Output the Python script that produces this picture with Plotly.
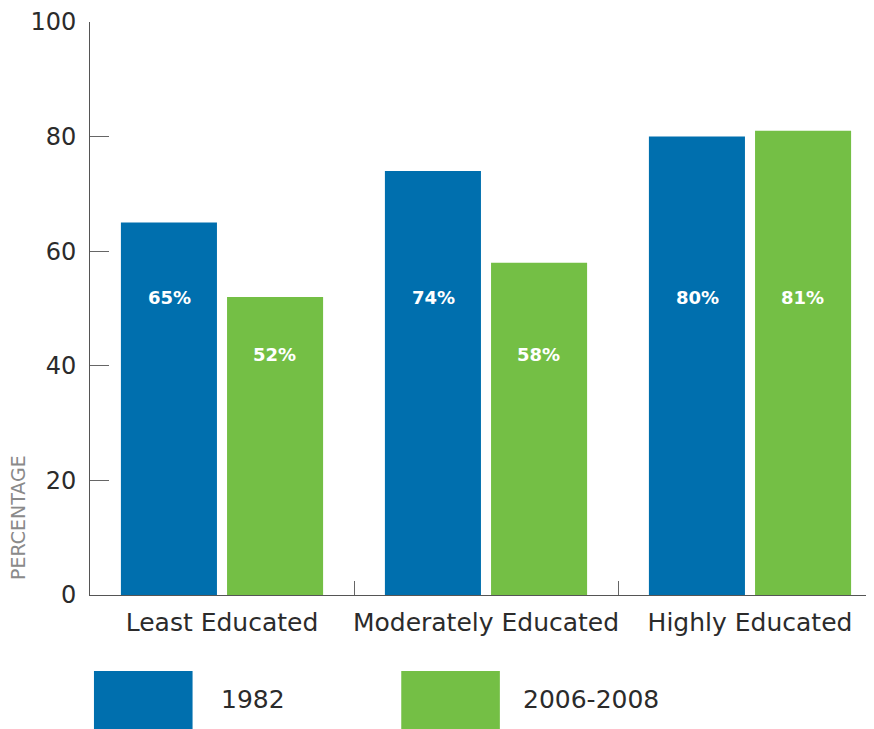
import plotly.graph_objects as go

categories = ["Least Educated", "Moderately Educated", "Highly Educated"]
series_names = ["1982", "2006-2008"]
values_1982 = [65, 74, 80]
values_2006 = [52, 58, 81]
label_y_1982 = [52, 52, 52]
label_y_2006 = [42, 42, 52]
colors = ["#006fae", "#74bf45"]
y_ticks = [0, 20, 40, 60, 80, 100]

FONT = "DejaVu Sans"
TEXT = "#2b2b2b"

fig = go.Figure()
all_vals = [values_1982, values_2006]
all_label_y = [label_y_1982, label_y_2006]
for name, vals, col in zip(series_names, all_vals, colors):
    fig.add_trace(go.Bar(
        x=categories, y=vals, name=name, marker=dict(color=col, line=dict(width=0)),
        showlegend=False, hoverinfo="x+y",
    ))

# value labels inside bars
shifts = [-52.5, 52.5]
for vals, ly, sh in zip(all_vals, all_label_y, shifts):
    for c, v, yy in zip(categories, vals, ly):
        fig.add_annotation(x=c, y=yy, text=f"{v}%", showarrow=False, xshift=sh,
                           font=dict(family=FONT, size=18, color="white", weight="bold"),
                           xanchor="center", yanchor="middle")

# custom legend (large swatches)
leg_x = [0.005, 0.393]
sw_w = 0.1245
txt_x = [0.163, 0.544]
for name, col, lx, tx in zip(series_names, colors, leg_x, txt_x):
    fig.add_shape(type="rect", xref="paper", yref="paper",
                  x0=lx, x1=lx + sw_w, y0=-0.1326, y1=-0.236,
                  fillcolor=col, line=dict(width=0))
    fig.add_annotation(xref="paper", yref="paper", x=tx, y=-0.183,
                       text=name, showarrow=False, xanchor="left", yanchor="middle",
                       font=dict(family=FONT, size=25, color=TEXT))

# y-axis title
fig.add_annotation(xref="paper", yref="paper", x=-0.091, y=0.136, text="PERCENTAGE",
                   showarrow=False, textangle=-90, xanchor="center", yanchor="middle",
                   borderpad=0,
                   font=dict(family=FONT, size=19, color="#8a8a8a"))

fig.update_layout(
    width=874, height=721,
    margin=dict(l=82, r=0, t=14, b=134),
    paper_bgcolor="white", plot_bgcolor="white",
    barmode="group", bargap=0.196, bargroupgap=0.095,
    font=dict(family=FONT, color=TEXT),
)
fig.update_xaxes(
    showline=True, linecolor="#555555", linewidth=1,
    ticks="inside", tickson="boundaries", ticklen=14, tickcolor="#666666",
    tickfont=dict(family=FONT, size=25, color=TEXT), tickangle=0, automargin=False,
    ticklabelstandoff=5, showgrid=False, zeroline=False,
)
fig.update_yaxes(
    range=[0, 100], tickvals=y_ticks, automargin=False,
    showline=True, linecolor="#555555", linewidth=1,
    ticks="inside", ticklen=19, tickcolor="#666666",
    tickfont=dict(family=FONT, size=24, color=TEXT),
    ticklabelstandoff=8, showgrid=False, zeroline=False,
)

fig.write_html("out.html")
